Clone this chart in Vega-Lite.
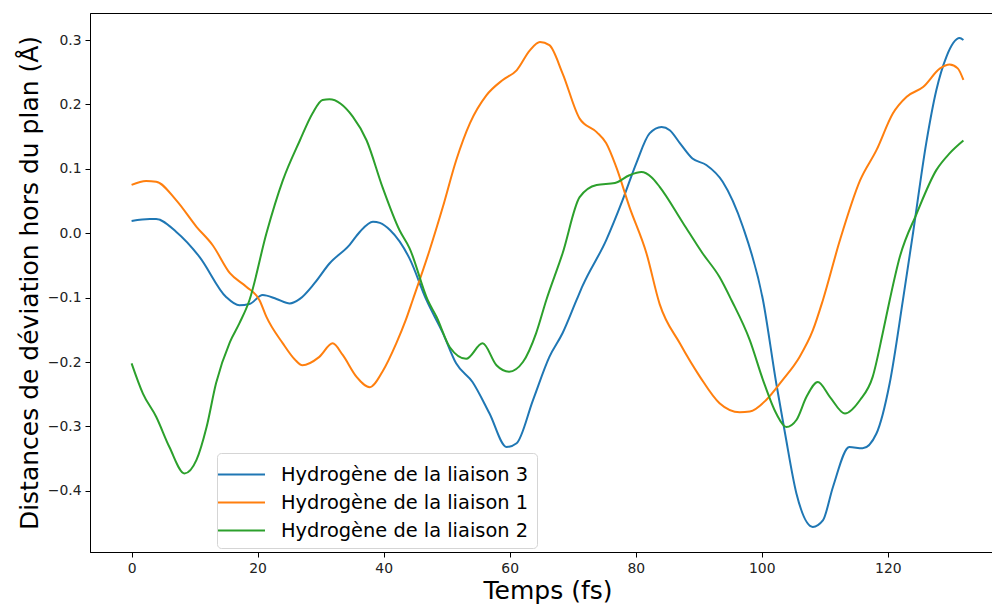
{
  "$schema": "https://vega.github.io/schema/vega-lite/v6.json",
  "autosize": "none",
  "width": 915,
  "height": 539,
  "padding": {"left": 90, "top": 13, "right": 0, "bottom": 53},
  "background": "white",
  "config": {
    "font": "DejaVu Sans",
    "view": {"stroke": "black", "strokeWidth": 1},
    "axis": {
      "domainColor": "black",
      "tickColor": "black",
      "tickSize": 5,
      "labelFontSize": 13.9,
      "labelColor": "#222",
      "titleFontSize": 25,
      "titleFontWeight": "normal",
      "titleColor": "black",
      "grid": false
    }
  },
  "datasets": {
    "series": [
      {"t": 0, "v": 0.019, "s": "Hydrogène de la liaison 3"},
      {"t": 2.9, "v": 0.022, "s": "Hydrogène de la liaison 3"},
      {"t": 3.9, "v": 0.022, "s": "Hydrogène de la liaison 3"},
      {"t": 7.1, "v": 0.002, "s": "Hydrogène de la liaison 3"},
      {"t": 10.8, "v": -0.037, "s": "Hydrogène de la liaison 3"},
      {"t": 15.0, "v": -0.099, "s": "Hydrogène de la liaison 3"},
      {"t": 17.1, "v": -0.112, "s": "Hydrogène de la liaison 3"},
      {"t": 18.7, "v": -0.110, "s": "Hydrogène de la liaison 3"},
      {"t": 20.8, "v": -0.096, "s": "Hydrogène de la liaison 3"},
      {"t": 23.0, "v": -0.102, "s": "Hydrogène de la liaison 3"},
      {"t": 25.1, "v": -0.109, "s": "Hydrogène de la liaison 3"},
      {"t": 26.7, "v": -0.102, "s": "Hydrogène de la liaison 3"},
      {"t": 29.0, "v": -0.078, "s": "Hydrogène de la liaison 3"},
      {"t": 31.4, "v": -0.047, "s": "Hydrogène de la liaison 3"},
      {"t": 34.6, "v": -0.018, "s": "Hydrogène de la liaison 3"},
      {"t": 36.2, "v": 0.002, "s": "Hydrogène de la liaison 3"},
      {"t": 38.3, "v": 0.018, "s": "Hydrogène de la liaison 3"},
      {"t": 39.4, "v": 0.016, "s": "Hydrogène de la liaison 3"},
      {"t": 41.0, "v": 0.005, "s": "Hydrogène de la liaison 3"},
      {"t": 44.1, "v": -0.039, "s": "Hydrogène de la liaison 3"},
      {"t": 46.8, "v": -0.104, "s": "Hydrogène de la liaison 3"},
      {"t": 49.4, "v": -0.155, "s": "Hydrogène de la liaison 3"},
      {"t": 51.5, "v": -0.202, "s": "Hydrogène de la liaison 3"},
      {"t": 54.1, "v": -0.231, "s": "Hydrogène de la liaison 3"},
      {"t": 56.8, "v": -0.280, "s": "Hydrogène de la liaison 3"},
      {"t": 59.5, "v": -0.332, "s": "Hydrogène de la liaison 3"},
      {"t": 61.1, "v": -0.326, "s": "Hydrogène de la liaison 3"},
      {"t": 63.7, "v": -0.259, "s": "Hydrogène de la liaison 3"},
      {"t": 66.3, "v": -0.192, "s": "Hydrogène de la liaison 3"},
      {"t": 68.4, "v": -0.155, "s": "Hydrogène de la liaison 3"},
      {"t": 70.6, "v": -0.104, "s": "Hydrogène de la liaison 3"},
      {"t": 71.6, "v": -0.081, "s": "Hydrogène de la liaison 3"},
      {"t": 75.3, "v": -0.011, "s": "Hydrogène de la liaison 3"},
      {"t": 77.9, "v": 0.051, "s": "Hydrogène de la liaison 3"},
      {"t": 80.1, "v": 0.109, "s": "Hydrogène de la liaison 3"},
      {"t": 82.2, "v": 0.155, "s": "Hydrogène de la liaison 3"},
      {"t": 84.1, "v": 0.165, "s": "Hydrogène de la liaison 3"},
      {"t": 85.4, "v": 0.160, "s": "Hydrogène de la liaison 3"},
      {"t": 87.0, "v": 0.140, "s": "Hydrogène de la liaison 3"},
      {"t": 89.0, "v": 0.116, "s": "Hydrogène de la liaison 3"},
      {"t": 91.2, "v": 0.106, "s": "Hydrogène de la liaison 3"},
      {"t": 93.8, "v": 0.080, "s": "Hydrogène de la liaison 3"},
      {"t": 97.0, "v": 0.010, "s": "Hydrogène de la liaison 3"},
      {"t": 100.2, "v": -0.104, "s": "Hydrogène de la liaison 3"},
      {"t": 102.3, "v": -0.233, "s": "Hydrogène de la liaison 3"},
      {"t": 103.7, "v": -0.311, "s": "Hydrogène de la liaison 3"},
      {"t": 105.5, "v": -0.404, "s": "Hydrogène de la liaison 3"},
      {"t": 108.1, "v": -0.456, "s": "Hydrogène de la liaison 3"},
      {"t": 109.7, "v": -0.446, "s": "Hydrogène de la liaison 3"},
      {"t": 111.3, "v": -0.394, "s": "Hydrogène de la liaison 3"},
      {"t": 113.9, "v": -0.332, "s": "Hydrogène de la liaison 3"},
      {"t": 116.0, "v": -0.334, "s": "Hydrogène de la liaison 3"},
      {"t": 118.2, "v": -0.311, "s": "Hydrogène de la liaison 3"},
      {"t": 120.3, "v": -0.233, "s": "Hydrogène de la liaison 3"},
      {"t": 122.4, "v": -0.104, "s": "Hydrogène de la liaison 3"},
      {"t": 124.0, "v": 0.0, "s": "Hydrogène de la liaison 3"},
      {"t": 126.1, "v": 0.140, "s": "Hydrogène de la liaison 3"},
      {"t": 127.7, "v": 0.222, "s": "Hydrogène de la liaison 3"},
      {"t": 129.3, "v": 0.274, "s": "Hydrogène de la liaison 3"},
      {"t": 131.4, "v": 0.303, "s": "Hydrogène de la liaison 3"},
      {"t": 132, "v": 0.300, "s": "Hydrogène de la liaison 3"},

      {"t": 0, "v": 0.075, "s": "Hydrogène de la liaison 1"},
      {"t": 2.3, "v": 0.081, "s": "Hydrogène de la liaison 1"},
      {"t": 3.9, "v": 0.080, "s": "Hydrogène de la liaison 1"},
      {"t": 7.1, "v": 0.051, "s": "Hydrogène de la liaison 1"},
      {"t": 10.3, "v": 0.010, "s": "Hydrogène de la liaison 1"},
      {"t": 12.9, "v": -0.019, "s": "Hydrogène de la liaison 1"},
      {"t": 15.6, "v": -0.062, "s": "Hydrogène de la liaison 1"},
      {"t": 18.2, "v": -0.083, "s": "Hydrogène de la liaison 1"},
      {"t": 20.3, "v": -0.104, "s": "Hydrogène de la liaison 1"},
      {"t": 21.4, "v": -0.130, "s": "Hydrogène de la liaison 1"},
      {"t": 24.0, "v": -0.171, "s": "Hydrogène de la liaison 1"},
      {"t": 25.9, "v": -0.196, "s": "Hydrogène de la liaison 1"},
      {"t": 27.1, "v": -0.205, "s": "Hydrogène de la liaison 1"},
      {"t": 29.8, "v": -0.192, "s": "Hydrogène de la liaison 1"},
      {"t": 31.9, "v": -0.171, "s": "Hydrogène de la liaison 1"},
      {"t": 33.5, "v": -0.189, "s": "Hydrogène de la liaison 1"},
      {"t": 35.7, "v": -0.223, "s": "Hydrogène de la liaison 1"},
      {"t": 37.8, "v": -0.239, "s": "Hydrogène de la liaison 1"},
      {"t": 39.8, "v": -0.215, "s": "Hydrogène de la liaison 1"},
      {"t": 42.0, "v": -0.171, "s": "Hydrogène de la liaison 1"},
      {"t": 43.5, "v": -0.135, "s": "Hydrogène de la liaison 1"},
      {"t": 44.6, "v": -0.104, "s": "Hydrogène de la liaison 1"},
      {"t": 47.3, "v": -0.026, "s": "Hydrogène de la liaison 1"},
      {"t": 49.4, "v": 0.041, "s": "Hydrogène de la liaison 1"},
      {"t": 51.5, "v": 0.113, "s": "Hydrogène de la liaison 1"},
      {"t": 53.7, "v": 0.171, "s": "Hydrogène de la liaison 1"},
      {"t": 56.3, "v": 0.214, "s": "Hydrogène de la liaison 1"},
      {"t": 58.9, "v": 0.238, "s": "Hydrogène de la liaison 1"},
      {"t": 61.1, "v": 0.253, "s": "Hydrogène de la liaison 1"},
      {"t": 63.2, "v": 0.284, "s": "Hydrogène de la liaison 1"},
      {"t": 64.8, "v": 0.297, "s": "Hydrogène de la liaison 1"},
      {"t": 66.3, "v": 0.292, "s": "Hydrogène de la liaison 1"},
      {"t": 68.4, "v": 0.248, "s": "Hydrogène de la liaison 1"},
      {"t": 71.1, "v": 0.178, "s": "Hydrogène de la liaison 1"},
      {"t": 73.8, "v": 0.157, "s": "Hydrogène de la liaison 1"},
      {"t": 75.3, "v": 0.140, "s": "Hydrogène de la liaison 1"},
      {"t": 76.9, "v": 0.103, "s": "Hydrogène de la liaison 1"},
      {"t": 79.0, "v": 0.041, "s": "Hydrogène de la liaison 1"},
      {"t": 81.7, "v": -0.031, "s": "Hydrogène de la liaison 1"},
      {"t": 83.8, "v": -0.110, "s": "Hydrogène de la liaison 1"},
      {"t": 87.0, "v": -0.171, "s": "Hydrogène de la liaison 1"},
      {"t": 90.2, "v": -0.223, "s": "Hydrogène de la liaison 1"},
      {"t": 93.3, "v": -0.264, "s": "Hydrogène de la liaison 1"},
      {"t": 96.5, "v": -0.278, "s": "Hydrogène de la liaison 1"},
      {"t": 98.1, "v": -0.277, "s": "Hydrogène de la liaison 1"},
      {"t": 100.7, "v": -0.259, "s": "Hydrogène de la liaison 1"},
      {"t": 103.3, "v": -0.228, "s": "Hydrogène de la liaison 1"},
      {"t": 106.0, "v": -0.192, "s": "Hydrogène de la liaison 1"},
      {"t": 108.1, "v": -0.151, "s": "Hydrogène de la liaison 1"},
      {"t": 109.7, "v": -0.104, "s": "Hydrogène de la liaison 1"},
      {"t": 112.4, "v": -0.011, "s": "Hydrogène de la liaison 1"},
      {"t": 115.6, "v": 0.082, "s": "Hydrogène de la liaison 1"},
      {"t": 118.2, "v": 0.129, "s": "Hydrogène de la liaison 1"},
      {"t": 120.8, "v": 0.186, "s": "Hydrogène de la liaison 1"},
      {"t": 123.0, "v": 0.212, "s": "Hydrogène de la liaison 1"},
      {"t": 125.6, "v": 0.227, "s": "Hydrogène de la liaison 1"},
      {"t": 128.3, "v": 0.256, "s": "Hydrogène de la liaison 1"},
      {"t": 129.8, "v": 0.262, "s": "Hydrogène de la liaison 1"},
      {"t": 131.1, "v": 0.256, "s": "Hydrogène de la liaison 1"},
      {"t": 132, "v": 0.238, "s": "Hydrogène de la liaison 1"},

      {"t": 0, "v": -0.202, "s": "Hydrogène de la liaison 2"},
      {"t": 1.8, "v": -0.249, "s": "Hydrogène de la liaison 2"},
      {"t": 3.9, "v": -0.285, "s": "Hydrogène de la liaison 2"},
      {"t": 6.0, "v": -0.332, "s": "Hydrogène de la liaison 2"},
      {"t": 8.4, "v": -0.373, "s": "Hydrogène de la liaison 2"},
      {"t": 10.3, "v": -0.352, "s": "Hydrogène de la liaison 2"},
      {"t": 11.9, "v": -0.301, "s": "Hydrogène de la liaison 2"},
      {"t": 13.4, "v": -0.233, "s": "Hydrogène de la liaison 2"},
      {"t": 15.6, "v": -0.169, "s": "Hydrogène de la liaison 2"},
      {"t": 17.1, "v": -0.140, "s": "Hydrogène de la liaison 2"},
      {"t": 18.7, "v": -0.104, "s": "Hydrogène de la liaison 2"},
      {"t": 21.4, "v": 0.0, "s": "Hydrogène de la liaison 2"},
      {"t": 24.0, "v": 0.082, "s": "Hydrogène de la liaison 2"},
      {"t": 26.7, "v": 0.144, "s": "Hydrogène de la liaison 2"},
      {"t": 28.7, "v": 0.186, "s": "Hydrogène de la liaison 2"},
      {"t": 30.3, "v": 0.207, "s": "Hydrogène de la liaison 2"},
      {"t": 31.4, "v": 0.208, "s": "Hydrogène de la liaison 2"},
      {"t": 35.1, "v": 0.181, "s": "Hydrogène de la liaison 2"},
      {"t": 37.3, "v": 0.144, "s": "Hydrogène de la liaison 2"},
      {"t": 39.8, "v": 0.072, "s": "Hydrogène de la liaison 2"},
      {"t": 42.5, "v": 0.005, "s": "Hydrogène de la liaison 2"},
      {"t": 44.1, "v": -0.023, "s": "Hydrogène de la liaison 2"},
      {"t": 47.0, "v": -0.104, "s": "Hydrogène de la liaison 2"},
      {"t": 48.4, "v": -0.130, "s": "Hydrogène de la liaison 2"},
      {"t": 50.5, "v": -0.177, "s": "Hydrogène de la liaison 2"},
      {"t": 53.1, "v": -0.195, "s": "Hydrogène de la liaison 2"},
      {"t": 55.7, "v": -0.171, "s": "Hydrogène de la liaison 2"},
      {"t": 57.9, "v": -0.205, "s": "Hydrogène de la liaison 2"},
      {"t": 59.9, "v": -0.215, "s": "Hydrogène de la liaison 2"},
      {"t": 62.1, "v": -0.200, "s": "Hydrogène de la liaison 2"},
      {"t": 64.2, "v": -0.155, "s": "Hydrogène de la liaison 2"},
      {"t": 65.8, "v": -0.104, "s": "Hydrogène de la liaison 2"},
      {"t": 68.4, "v": -0.031, "s": "Hydrogène de la liaison 2"},
      {"t": 71.1, "v": 0.056, "s": "Hydrogène de la liaison 2"},
      {"t": 73.8, "v": 0.075, "s": "Hydrogène de la liaison 2"},
      {"t": 76.7, "v": 0.078, "s": "Hydrogène de la liaison 2"},
      {"t": 79.0, "v": 0.090, "s": "Hydrogène de la liaison 2"},
      {"t": 80.9, "v": 0.095, "s": "Hydrogène de la liaison 2"},
      {"t": 82.5, "v": 0.087, "s": "Hydrogène de la liaison 2"},
      {"t": 83.8, "v": 0.072, "s": "Hydrogène de la liaison 2"},
      {"t": 87.5, "v": 0.016, "s": "Hydrogène de la liaison 2"},
      {"t": 90.6, "v": -0.031, "s": "Hydrogène de la liaison 2"},
      {"t": 93.3, "v": -0.068, "s": "Hydrogène de la liaison 2"},
      {"t": 95.2, "v": -0.104, "s": "Hydrogène de la liaison 2"},
      {"t": 98.1, "v": -0.166, "s": "Hydrogène de la liaison 2"},
      {"t": 100.2, "v": -0.228, "s": "Hydrogène de la liaison 2"},
      {"t": 102.3, "v": -0.280, "s": "Hydrogène de la liaison 2"},
      {"t": 103.9, "v": -0.301, "s": "Hydrogène de la liaison 2"},
      {"t": 105.5, "v": -0.290, "s": "Hydrogène de la liaison 2"},
      {"t": 107.1, "v": -0.254, "s": "Hydrogène de la liaison 2"},
      {"t": 108.9, "v": -0.231, "s": "Hydrogène de la liaison 2"},
      {"t": 110.8, "v": -0.254, "s": "Hydrogène de la liaison 2"},
      {"t": 113.2, "v": -0.280, "s": "Hydrogène de la liaison 2"},
      {"t": 115.6, "v": -0.259, "s": "Hydrogène de la liaison 2"},
      {"t": 117.6, "v": -0.223, "s": "Hydrogène de la liaison 2"},
      {"t": 119.2, "v": -0.155, "s": "Hydrogène de la liaison 2"},
      {"t": 120.3, "v": -0.104, "s": "Hydrogène de la liaison 2"},
      {"t": 121.9, "v": -0.037, "s": "Hydrogène de la liaison 2"},
      {"t": 124.6, "v": 0.031, "s": "Hydrogène de la liaison 2"},
      {"t": 127.7, "v": 0.098, "s": "Hydrogène de la liaison 2"},
      {"t": 129.8, "v": 0.124, "s": "Hydrogène de la liaison 2"},
      {"t": 132, "v": 0.144, "s": "Hydrogène de la liaison 2"}
    ]
  },
  "data": {"name": "series"},
  "mark": {"type": "line", "strokeWidth": 2, "interpolate": "monotone", "clip": true},
  "encoding": {
    "x": {
      "field": "t",
      "type": "quantitative",
      "scale": {"domain": [-6.6, 138.6], "nice": false, "zero": false},
      "axis": {"values": [0, 20, 40, 60, 80, 100, 120], "title": "Temps (fs)", "labelPadding": 4, "titlePadding": 4}
    },
    "y": {
      "field": "v",
      "type": "quantitative",
      "scale": {"domain": [-0.495, 0.342], "nice": false, "zero": false},
      "axis": {"values": [-0.4, -0.3, -0.2, -0.1, 0, 0.1, 0.2, 0.3], "format": ".1f", "title": "Distances de déviation hors du plan (Å)", "labelPadding": 4, "titlePadding": 5}
    },
    "color": {
      "field": "s",
      "type": "nominal",
      "sort": null,
      "scale": {
        "domain": ["Hydrogène de la liaison 3", "Hydrogène de la liaison 1", "Hydrogène de la liaison 2"],
        "range": ["#1f77b4", "#ff7f0e", "#2ca02c"]
      },
      "legend": {
        "title": null,
        "orient": "none",
        "legendX": 127,
        "legendY": 440,
        "fillColor": "white",
        "strokeColor": "#d5d5d5",
        "cornerRadius": 4,
        "padding": 8,
        "symbolType": "M-1.88,0H1.88",
        "symbolSize": 625,
        "symbolStrokeWidth": 2,
        "symbolOffset": 3,
        "labelFontSize": 19.4,
        "labelColor": "black",
        "labelOffset": 26,
        "rowPadding": 5,
        "labelLimit": 400
      }
    }
  }
}
